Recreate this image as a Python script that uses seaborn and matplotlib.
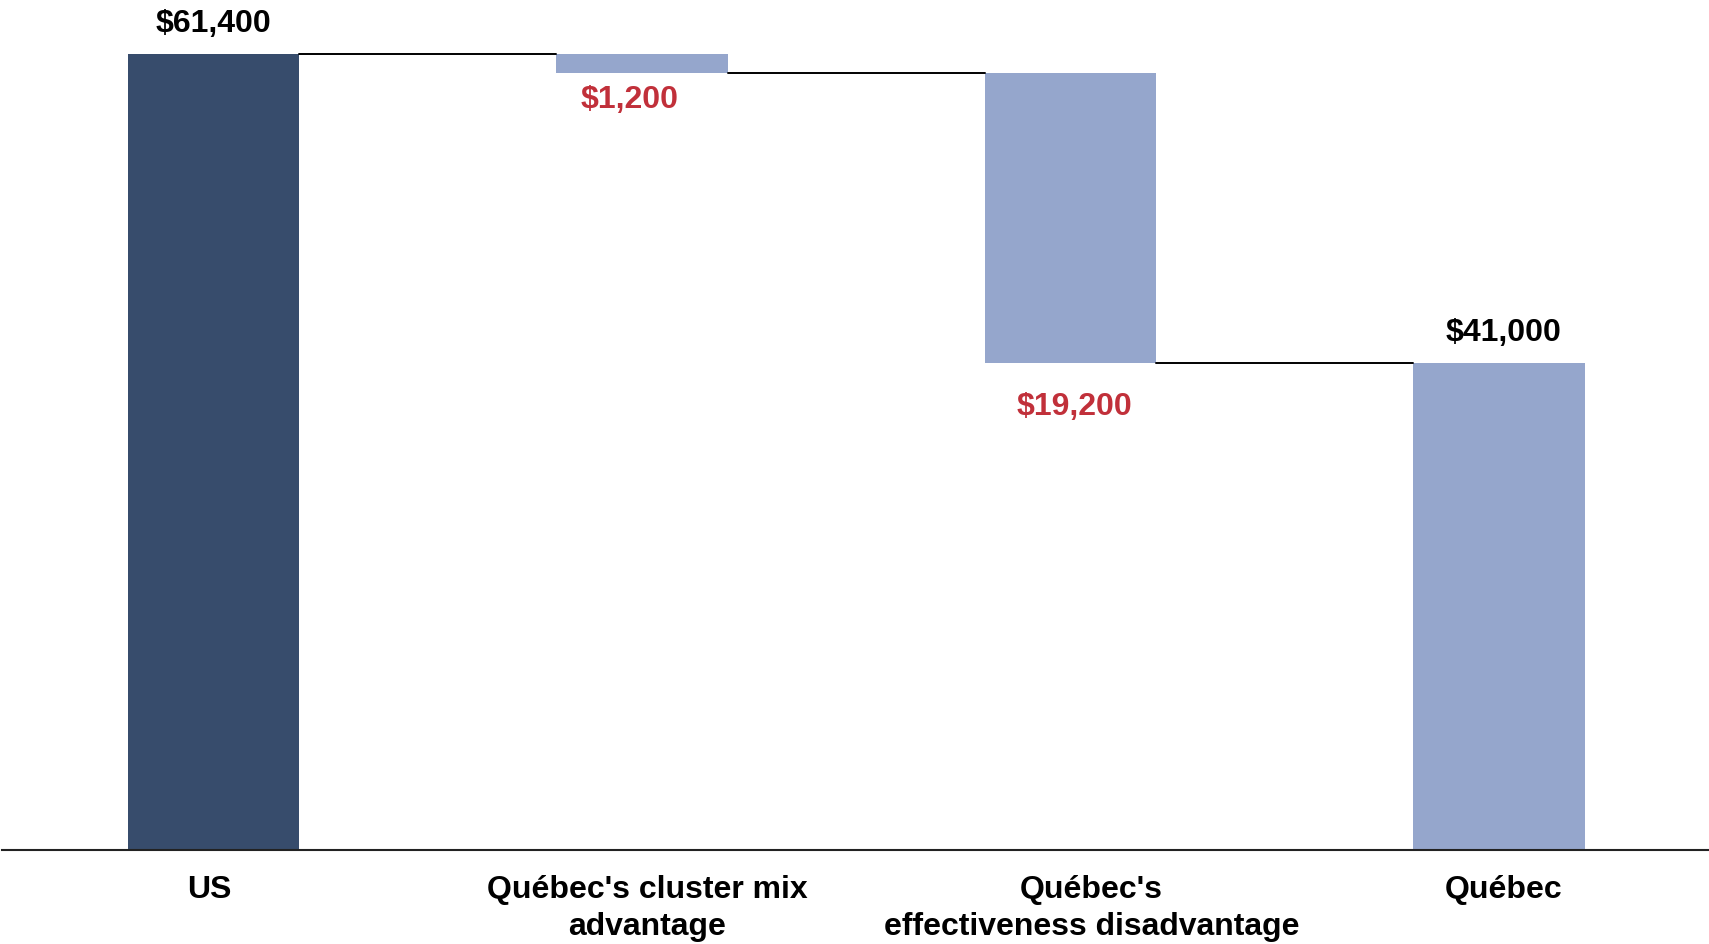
import matplotlib
matplotlib.use("Agg")
import matplotlib.pyplot as plt
import matplotlib.transforms as mtransforms
import seaborn as sns

# Waterfall data
categories = ["US", "Québec's cluster mix\nadvantage", "Québec's\neffectiveness disadvantage", "Québec"]
changes = [61400, -1200, -19200, 41000]
kinds = ["total", "delta", "delta", "total"]
value_labels = ["$61,400", "$1,200", "$19,200", "$41,000"]
bar_colors = ["#374C6C", "#95A6CC", "#95A6CC", "#95A6CC"]

# running totals -> bottoms/tops of each bar
bottoms, tops = [], []
running = 0
for ch, kind in zip(changes, kinds):
    if kind == "total":
        bottoms.append(0)
        tops.append(ch)
        running = ch
    else:
        new = running + ch
        bottoms.append(min(running, new))
        tops.append(max(running, new))
        running = new

sns.set_style("white")
plt.rcParams["font.family"] = ["Liberation Sans", "DejaVu Sans"]

fig = plt.figure(figsize=(17.09, 9.44), dpi=100)
ax = fig.add_axes([0.001, 0.0996, 0.999, 0.9004])

bar_w = 0.4
sns.barplot(x=categories, y=tops, hue=categories, palette=bar_colors,
            legend=False, width=bar_w, saturation=1, ax=ax)

# reshape the seaborn bars into floating waterfall pieces
for patch, b, t in zip(ax.patches, bottoms, tops):
    patch.set_y(b)
    patch.set_height(t - b)
    patch.set_linewidth(0)

# connector lines between consecutive bars
run_levels = [tops[0], bottoms[1], bottoms[2]]
for i, lvl in enumerate(run_levels):
    ax.plot([i + bar_w / 2, i + 1 - bar_w / 2], [lvl, lvl], color="black", lw=1.4)

# value labels (small nudges to sit like the original)
label_dx = [0, -0.03, 0.01, 0.01]
label_gap = [1000, 800, 1900, 1000]
for i, (lab, kind, b, t) in enumerate(zip(value_labels, kinds, bottoms, tops)):
    if kind == "total":
        ax.text(i + label_dx[i], t + label_gap[i], lab, ha="center", va="bottom",
                fontsize=23, fontweight="bold", color="black")
    else:
        ax.text(i + label_dx[i], b - label_gap[i], lab, ha="center", va="top",
                fontsize=23, fontweight="bold", color="#C1303A")

ax.set_xlim(-0.494, 3.49)
ax.set_ylim(8810, 65000)
ax.set_yticks([])
ax.set_ylabel("")
ax.tick_params(axis="x", length=0, pad=18, labelsize=23, labelcolor="black")
tick_dx_pt = [-3, 4, 15, 3]
for lab, dx in zip(ax.get_xticklabels(), tick_dx_pt):
    lab.set_fontweight("bold")
    lab.set_linespacing(1.32)
    lab.set_transform(lab.get_transform() +
                      mtransforms.ScaledTranslation(dx / 72, 0, fig.dpi_scale_trans))
for side in ["top", "left", "right"]:
    ax.spines[side].set_visible(False)
ax.spines["bottom"].set_color("#222222")
ax.spines["bottom"].set_linewidth(1.5)

fig.savefig("out.png", dpi=100)
